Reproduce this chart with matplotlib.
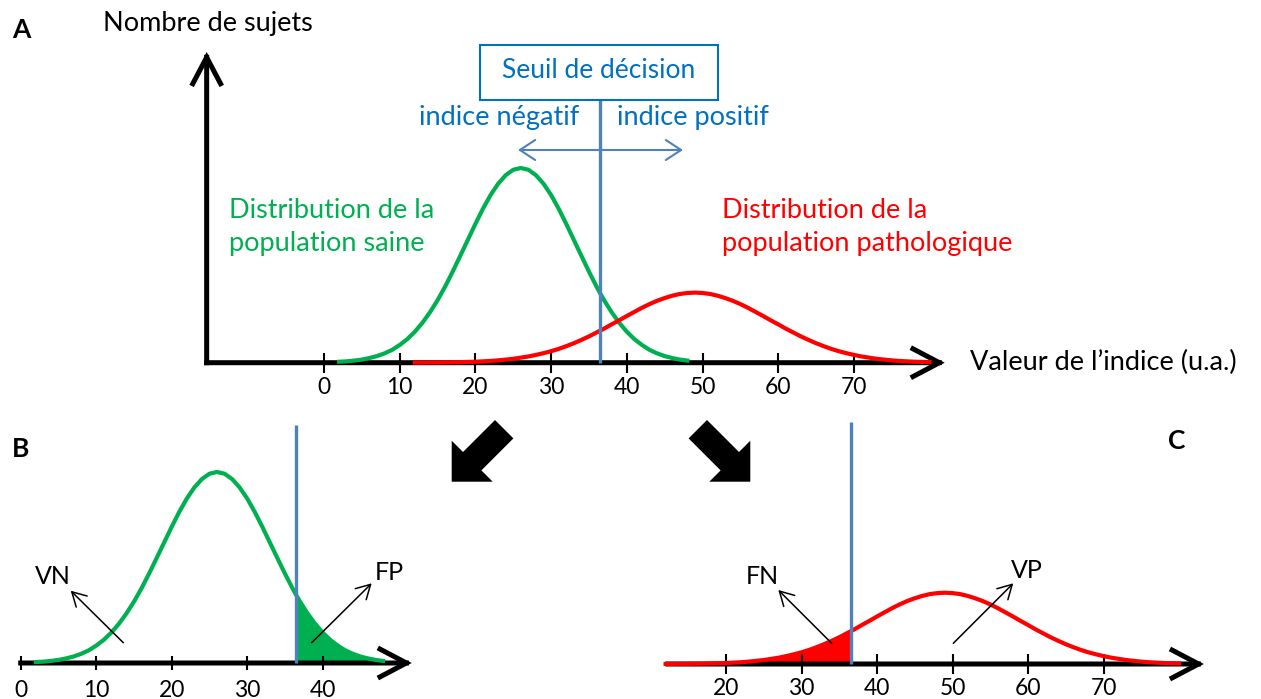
import matplotlib
matplotlib.use("Agg")
import matplotlib.pyplot as plt
import numpy as np
from matplotlib.patches import FancyArrow, Rectangle

plt.rcParams['font.family'] = ['Lato', 'DejaVu Sans']

W, H = 1261, 699

# decision threshold (valeur de l'indice)
threshold = 36.5

# healthy population curve (peak = 100)
healthy_x = [2, 3, 4, 5, 6, 7, 8, 9, 10, 11, 12, 13, 14, 15, 16, 17, 18, 19, 20, 21, 22, 23, 24, 25,
             26, 27, 28, 29, 30, 31, 32, 33, 34, 35, 36, 36.5, 37, 38, 39, 40, 41, 42, 43, 44, 45,
             46, 47, 48]
healthy_y = [0.5, 0.7, 1.1, 1.6, 2.4, 3.4, 4.8, 6.6, 9.1, 12.1, 15.9, 20.5, 25.9, 32.1, 39.1, 46.8,
             54.9, 63.1, 71.3, 79.1, 86.1, 91.9, 96.3, 99.1, 100, 99.1, 96.3, 91.9, 86.1, 79.1, 71.3,
             63.1, 54.9, 46.8, 39.1, 35.5, 32.1, 25.9, 20.5, 15.9, 12.1, 9.1, 6.6, 4.8, 3.4, 2.4,
             1.6, 1.1]

# pathological population curve, same units
patho_x = [12, 13, 14, 15, 16, 17, 18, 19, 20, 21, 22, 23, 24, 25, 26, 27, 28, 29, 30, 31, 32, 33,
           34, 35, 36, 36.5, 37, 38, 39, 40, 41, 42, 43, 44, 45, 46, 47, 48, 49, 50, 51, 52, 53, 54,
           55, 56, 57, 58, 59, 60, 61, 62, 63, 64, 65, 66, 67, 68, 69, 70, 71, 72, 73, 74, 75, 76,
           77, 78, 79, 80]
patho_y = [0.05, 0.05, 0.1, 0.1, 0.15, 0.2, 0.3, 0.4, 0.5, 0.7, 0.9, 1.2, 1.6, 2.0, 2.6, 3.2, 4.0,
           4.9, 5.9, 7.1, 8.5, 10.0, 11.7, 13.5, 15.5, 16.5, 17.5, 19.7, 21.8, 24.0, 26.1, 28.2,
           30.1, 31.8, 33.2, 34.4, 35.3, 35.8, 36, 35.8, 35.3, 34.4, 33.2, 31.8, 30.1, 28.2, 26.1,
           24.0, 21.8, 19.7, 17.5, 15.5, 13.5, 11.7, 10.0, 8.5, 7.1, 5.9, 4.9, 4.0, 3.2, 2.6, 2.0,
           1.6, 1.2, 0.9, 0.7, 0.5, 0.4, 0.3]

ticks_a = [0, 10, 20, 30, 40, 50, 60, 70]
ticks_b = [0, 10, 20, 30, 40]
ticks_c = [20, 30, 40, 50, 60, 70]

GREEN = "#00B050"
RED = "#FF0000"
BLUE_LINE = "#4F81BD"
BLUE_TEXT = "#0070C0"

hx, hy = np.array(healthy_x), np.array(healthy_y)
px_, py_ = np.array(patho_x), np.array(patho_y)

fig = plt.figure(figsize=(W / 100, H / 100), dpi=100)


def panel(left, right, top, bottom, x0, sx, y0, sy):
    # axes placed in pixel box, data 0 at (x0, y0), sx/sy pixels per unit
    ax = fig.add_axes([left / W, 1 - bottom / H, (right - left) / W, (bottom - top) / H])
    ax.set_xlim((left - x0) / sx, (right - x0) / sx)
    ax.set_ylim((y0 - bottom) / sy, (y0 - top) / sy)
    ax.patch.set_alpha(0)
    for s in ['top', 'right', 'left']:
        ax.spines[s].set_visible(False)
    ax.spines['bottom'].set_position(('data', 0))
    ax.spines['bottom'].set_color('none')
    ax.set_yticks([])
    ax.set_zorder(1)
    return ax


def axis_arrow(ax, start, end):
    ax.annotate("", xy=end, xytext=start, zorder=2,
                arrowprops=dict(arrowstyle="->,head_length=0.95,head_width=0.5", lw=3.6,
                                color='black', mutation_scale=20, shrinkA=0, shrinkB=0,
                                joinstyle='miter', capstyle='projecting'))


def style_ticks(ax, ticks, length, pad=2):
    ax.set_xticks(ticks)
    ax.tick_params(axis='x', direction='inout', length=length, width=1.5, labelsize=16.5, pad=pad,
                   color='black')


# ---- panel A
sy_a = 1.947
axA = panel(180, 965, 40, 400, 324, 7.57, 362.7, sy_a)
axis_arrow(axA, (-15.5, 0), (82, 0))
axis_arrow(axA, (-15.5, 0), (-15.5, 159.6))
axA.plot(hx, hy, color=GREEN, lw=3, zorder=3)
axA.plot(px_, py_, color=RED, lw=3, zorder=3)
axA.vlines(threshold, 0, (362.7 - 100) / sy_a, color=BLUE_LINE, lw=2.4, zorder=4)
style_ticks(axA, ticks_a, 15, pad=3)

# ---- panel B
sy_b = 1.91
axB = panel(0, 430, 420, 699, 20.7, 7.55, 663, sy_b)
axB.fill_between(hx, hy, where=hx >= threshold, color=GREEN, lw=0, zorder=1)
axis_arrow(axB, (0, 0), (51.8, 0))
axB.plot(hx, hy, color=GREEN, lw=3, zorder=3)
axB.vlines(threshold, 0, (663 - 425) / sy_b, color=BLUE_LINE, lw=2.4, zorder=4)
style_ticks(axB, ticks_b, 10, pad=7)

# ---- panel C
sy_c = 1.98
axC = panel(640, 1261, 420, 699, 575, 7.55, 664, sy_c)
axC.fill_between(px_, py_, where=px_ <= threshold, color=RED, lw=0, zorder=1)
axis_arrow(axC, (12.3, 0), (83.3, 0))
axC.plot(px_, py_, color=RED, lw=3, zorder=3)
axC.vlines(threshold, 0, (664 - 422) / sy_c, color=BLUE_LINE, lw=2.4, zorder=4)
style_ticks(axC, ticks_c, 14, pad=3)

# ---- overlay in pixel coordinates for labels and decorations
ov = fig.add_axes([0, 0, 1, 1])
ov.set_xlim(0, W)
ov.set_ylim(H, 0)
ov.axis('off')
ov.patch.set_alpha(0)
ov.set_zorder(3)

fs = 19.5
ov.text(12, 30, "A", fontsize=19, fontweight='bold', va='center', ha='left')
ov.text(12, 449, "B", fontsize=19, fontweight='bold', va='center', ha='left')
ov.text(1168, 441, "C", fontsize=19, fontweight='bold', va='center', ha='left')
ov.text(103, 24, "Nombre de sujets", fontsize=fs, va='center', ha='left')
ov.text(970, 362, "Valeur de l\u2019indice (u.a.)", fontsize=fs, va='center', ha='left')

ov.add_patch(Rectangle((480, 45), 238, 55, fill=False, ec=BLUE_TEXT, lw=1.5))
ov.text(599, 71, "Seuil de décision", fontsize=19, color=BLUE_TEXT, va='center', ha='center')
ov.text(499, 118, "indice négatif", fontsize=fs, color=BLUE_TEXT, va='center', ha='center')
ov.text(693, 118, "indice positif", fontsize=fs, color=BLUE_TEXT, va='center', ha='center')
ov.annotate("", xy=(518, 150), xytext=(683, 150),
            arrowprops=dict(arrowstyle="<->,head_length=0.55,head_width=0.36", lw=1.5,
                            color=BLUE_LINE, mutation_scale=20, shrinkA=0, shrinkB=0))

ov.text(229, 210, "Distribution de la", fontsize=fs, color=GREEN, va='center', ha='left')
ov.text(229, 244, "population saine", fontsize=fs, color=GREEN, va='center', ha='left')
ov.text(722, 210, "Distribution de la", fontsize=fs, color=RED, va='center', ha='left')
ov.text(722, 244, "population pathologique", fontsize=fs, color=RED, va='center', ha='left')

# big black arrows towards B and C
ov.add_patch(FancyArrow(504.2, 429.2, -52.5, 52.5, width=26, head_width=58, head_length=29,
                        length_includes_head=True, color='black', lw=0))
ov.add_patch(FancyArrow(697.8, 429.2, 52.5, 52.5, width=26, head_width=58, head_length=29,
                        length_includes_head=True, color='black', lw=0))

# VN / FP / FN / VP labels with thin arrows
thin = dict(arrowstyle="->,head_length=0.5,head_width=0.28", lw=1.1, color='black',
            mutation_scale=20, shrinkA=0, shrinkB=0)
ov.annotate("", xy=(70.7, 590.7), xytext=(123.3, 642.7), arrowprops=thin)
ov.text(53, 577, "VN", fontsize=18, va='center', ha='center')
ov.annotate("", xy=(371.7, 583.3), xytext=(311.7, 642.7), arrowprops=thin)
ov.text(389, 573, "FP", fontsize=18, va='center', ha='center')
ov.annotate("", xy=(778.3, 590), xytext=(831.7, 643.3), arrowprops=thin)
ov.text(762, 577, "FN", fontsize=18, va='center', ha='center')
ov.annotate("", xy=(1013.3, 583.3), xytext=(953.3, 643.3), arrowprops=thin)
ov.text(1027, 571, "VP", fontsize=18, va='center', ha='center')

fig.savefig("out.png", dpi=100)
